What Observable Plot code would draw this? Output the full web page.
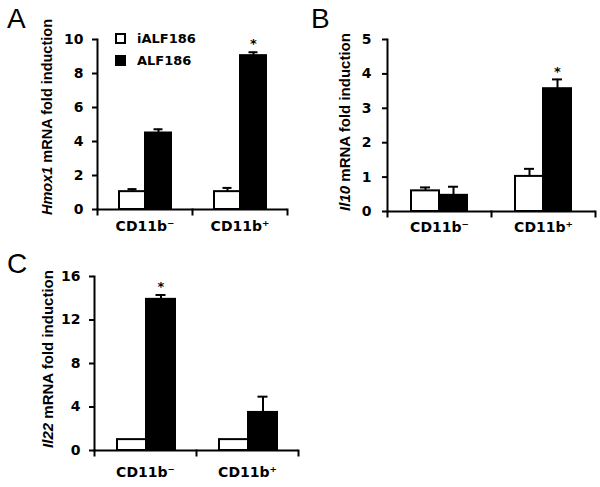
<!DOCTYPE html>
<html><head><meta charset="utf-8">
<script src="https://cdn.jsdelivr.net/npm/d3@7"></script>
<script src="https://cdn.jsdelivr.net/npm/@observablehq/plot@0.6"></script>
<style>
body{margin:0;background:#fff;}
#fig{position:relative;width:600px;height:487px;overflow:hidden;background:#fff;font-family:Arial,"Liberation Sans",sans-serif;color:#000;}
.panel{position:absolute;}
.letter{position:absolute;font-size:28px;line-height:28px;font-family:Arial,"Liberation Sans",sans-serif;}
.ytitle{position:absolute;white-space:nowrap;font-weight:bold;transform:translate(-50%,-50%) rotate(-90deg);font-family:Arial,"Liberation Sans",sans-serif;line-height:1;}
.leg{position:absolute;font-family:"DejaVu Sans",sans-serif;font-weight:bold;font-size:13px;line-height:13px;}
.sw{position:absolute;box-sizing:border-box;border:2px solid #000;}
</style></head>
<body><div id="fig"></div>
<script>
// ---- data ----
const categories = ["CD11b-", "CD11b+"];
const treatments = ["iALF186", "ALF186"];

const hmox1_iALF186 = [1.05, 1.05];
const hmox1_iALF186_err = [0.15, 0.22];
const hmox1_ALF186 = [4.5, 9.05];
const hmox1_ALF186_err = [0.22, 0.2];
const hmox1_sig = [false, true];
const hmox1_ticks = [0, 2, 4, 6, 8, 10];

const il10_iALF186 = [0.6, 1.02];
const il10_iALF186_err = [0.1, 0.22];
const il10_ALF186 = [0.47, 3.57];
const il10_ALF186_err = [0.25, 0.27];
const il10_sig = [false, true];
const il10_ticks = [0, 1, 2, 3, 4, 5];

const il22_iALF186 = [1.0, 1.0];
const il22_iALF186_err = [0, 0];
const il22_ALF186 = [13.9, 3.5];
const il22_ALF186_err = [0.4, 1.45];
const il22_sig = [true, false];
const il22_ticks = [0, 4, 8, 12, 16];

function rows(ia, iaErr, a, aErr, sig) {
  const out = [];
  categories.forEach((c, i) => {
    out.push({cat: c, trt: treatments[0], value: ia[i], err: iaErr[i], sig: false});
    out.push({cat: c, trt: treatments[1], value: a[i], err: aErr[i], sig: sig[i]});
  });
  return out;
}
const sup = c => c.replace("-", "\u207B").replace("+", "\u207A");

const fig = document.getElementById("fig");

function makePanel(cfg) {
  const data = rows(...cfg.data);
  const innerH = cfg.height - cfg.marginTop - cfg.marginBottom;
  const plot = Plot.plot({
    width: cfg.width, height: cfg.height,
    marginLeft: cfg.marginLeft, marginRight: cfg.marginRight,
    marginTop: cfg.marginTop, marginBottom: cfg.marginBottom,
    style: {background: "transparent", fontFamily: "'DejaVu Sans', sans-serif", fontWeight: "bold", fontSize: "14px", color: "black", overflow: "visible"},
    fx: {domain: categories, paddingInner: 0, paddingOuter: 0, axis: null},
    x: {domain: treatments, paddingInner: 0, paddingOuter: cfg.po, align: cfg.align, axis: null},
    y: {domain: [cfg.ticks[0], cfg.ticks[cfg.ticks.length - 1]], axis: null},
    marks: [
      Plot.ruleX(data.filter(d => d.err > 0), {fx: "cat", x: "trt", y1: "value", y2: d => d.value + d.err, stroke: "black", strokeWidth: 2}),
      Plot.tickY(data.filter(d => d.err > 0), {fx: "cat", x: "trt", y: d => d.value + d.err, stroke: "black", strokeWidth: 2, insetLeft: cfg.capInset, insetRight: cfg.capInset}),
      Plot.barY(data.filter(d => d.trt === treatments[0]), {fx: "cat", x: "trt", y: "value", fill: "white", stroke: "black", strokeWidth: 2}),
      Plot.barY(data.filter(d => d.trt === treatments[1]), {fx: "cat", x: "trt", y: "value", fill: "black", stroke: "black", strokeWidth: 2}),
      Plot.text(data.filter(d => d.sig), {fx: "cat", x: "trt", y: d => d.value + d.err, text: () => "*", dy: -8, fontSize: 13, fontWeight: "bold"}),
      Plot.ruleY([cfg.ticks[0]], {stroke: "black", strokeWidth: 2}),
      Plot.frame({anchor: "left", facetAnchor: "left", stroke: "black", strokeWidth: 2}),
      Plot.frame({anchor: "left", insetTop: innerH, insetBottom: -5, stroke: "black", strokeWidth: 2}),
      Plot.frame({anchor: "right", facetAnchor: "right", insetTop: innerH, insetBottom: -5, stroke: "black", strokeWidth: 2}),
      Plot.axisY({ticks: cfg.ticks, tickSize: 5, tickPadding: cfg.tickPadding, strokeWidth: 2, label: null, fontSize: 14, fontWeight: "bold", tickFormat: d => String(d)}),
      Plot.axisFx({anchor: "bottom", tickSize: 0, tickPadding: cfg.catPadding, label: null, tickFormat: sup, fontSize: 14, fontWeight: "bold"})
    ]
  });
  const wrap = document.createElement("div");
  wrap.className = "panel";
  wrap.style.left = cfg.left + "px";
  wrap.style.top = cfg.top + "px";
  wrap.appendChild(plot);
  fig.appendChild(wrap);

  const t = document.createElement("div");
  t.className = "ytitle";
  t.style.left = cfg.titleX + "px";
  t.style.top = cfg.titleY + "px";
  t.style.fontSize = cfg.titleSize + "px";
  t.innerHTML = "<i>" + cfg.gene + "</i> mRNA fold induction";
  fig.appendChild(t);

  const L = document.createElement("div");
  L.className = "letter";
  L.style.left = cfg.letterX + "px";
  L.style.top = cfg.letterY + "px";
  L.textContent = cfg.letter;
  fig.appendChild(L);
}

makePanel({
  letter: "A", letterX: 7, letterY: 5, gene: "Hmox1", titleX: 47, titleY: 117, titleSize: 14.5,
  left: 0, top: 0, width: 300, height: 240,
  marginLeft: 96, marginRight: 13, marginTop: 39, marginBottom: 31,
  po: 0.8, align: 0.52, capInset: 8.5, tickPadding: 9, catPadding: 12,
  ticks: hmox1_ticks,
  data: [hmox1_iALF186, hmox1_iALF186_err, hmox1_ALF186, hmox1_ALF186_err, hmox1_sig]
});
makePanel({
  letter: "B", letterX: 311, letterY: 5, gene: "Il10", titleX: 344, titleY: 122, titleSize: 15,
  left: 300, top: 0, width: 300, height: 240,
  marginLeft: 87, marginRight: 5, marginTop: 39, marginBottom: 29,
  po: 0.82, align: 0.5, capInset: 9, tickPadding: 11, catPadding: 11,
  ticks: il10_ticks,
  data: [il10_iALF186, il10_iALF186_err, il10_ALF186, il10_ALF186_err, il10_sig]
});
makePanel({
  letter: "C", letterX: 7, letterY: 250, gene: "Il22", titleX: 47, titleY: 359, titleSize: 15,
  left: 0, top: 240, width: 300, height: 247,
  marginLeft: 94, marginRight: 2, marginTop: 36, marginBottom: 37,
  po: 0.73, align: 0.53, capInset: 9.5, tickPadding: 9, catPadding: 17,
  ticks: il22_ticks,
  data: [il22_iALF186, il22_iALF186_err, il22_ALF186, il22_ALF186_err, il22_sig]
});

// ---- legend ----
const legendItems = [
  {label: treatments[0], fill: "#fff", top: 33},
  {label: treatments[1], fill: "#000", top: 55}
];
legendItems.forEach(it => {
  const s = document.createElement("div");
  s.className = "sw";
  s.style.left = "115px"; s.style.top = it.top + "px";
  s.style.width = "11px"; s.style.height = "11px";
  s.style.background = it.fill;
  fig.appendChild(s);
  const l = document.createElement("div");
  l.className = "leg";
  l.style.left = "137px"; l.style.top = (it.top - 1) + "px";
  l.textContent = it.label;
  fig.appendChild(l);
});
</script>
</body></html>
